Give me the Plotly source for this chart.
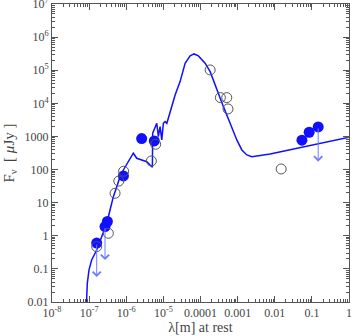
import math
import plotly.graph_objects as go

# model SED (wavelength in m, flux in microJy)
model_wl = [8.51e-8, 8.93e-8, 9.93e-8, 1.17e-7, 1.60e-7, 1.97e-7, 2.42e-7, 2.98e-7,
            3.66e-7, 4.49e-7, 5.55e-7, 6.81e-7, 8.36e-7, 1.14e-6, 1.55e-6, 1.92e-6,
            2.62e-6, 3.57e-6, 4.39e-6, 5.06e-6, 5.15e-6, 5.61e-6, 6.64e-6, 7.33e-6,
            8.15e-6, 9.06e-6, 1.0e-5, 1.11e-5, 1.24e-5, 1.36e-5, 1.68e-5, 2.07e-5,
            2.82e-5, 3.85e-5, 5.25e-5, 6.71e-5, 8.77e-5, 1.33e-4, 1.82e-4, 2.75e-4,
            4.14e-4, 6.28e-4, 9.51e-4, 1.30e-3, 1.77e-3, 2.42e-3, 3.64e-3, 7.52e-3, 1.01]
model_flux = [0.010, 0.0367, 0.093, 0.186, 0.372, 0.664, 1.19, 2.39,
              6.0, 15.2, 30.4, 61, 97, 173, 311, 219,
              195, 173, 138, 117, 1250, 1570, 2500, 986,
              1980, 783, 2500, 2800, 2500, 3550, 7940, 1.79e4,
              4.53e4, 1.63e5, 2.70e5, 3.10e5, 2.70e5, 1.63e5, 9.08e4, 2.54e4,
              7940, 2500, 783, 391, 276, 245, 258, 296, 946]

# detections (filled)
det_wl = [1.6e-7, 2.68e-7, 3.1e-7, 8.4e-7, 2.6e-6, 5.7e-6, 0.054, 0.0845, 0.148]
det_flux = [0.6, 1.9, 2.7, 64, 860, 730, 770, 1340, 1940]

# literature points (open)
lit_wl = [1.6e-7, 3.3e-7, 5.0e-7, 6.3e-7, 8.5e-7, 4.75e-6, 6.2e-6,
          1.82e-4, 3.43e-4, 5.1e-4, 5.5e-4, 0.0149]
lit_flux = [0.47, 1.19, 19.2, 45, 89, 182, 580,
            1.02e5, 1.49e4, 1.49e4, 6770, 104]

# upper limits: arrows drawn from -> to
ul_wl = [1.6e-7, 2.68e-7, 0.148]
ul_from = [0.6, 1.9, 1940]
ul_to = [0.057, 0.186, 173]

xtick_vals = [1e-8, 1e-7, 1e-6, 1e-5, 1e-4, 1e-3, 1e-2, 1e-1, 1]
xtick_text = ['10<sup>-8</sup>', '10<sup>-7</sup>', '10<sup>-6</sup>', '10<sup>-5</sup>',
              '0.0001', '0.001', '0.01', '0.1', '1']
ytick_vals = [1e-2, 1e-1, 1, 10, 100, 1000, 1e4, 1e5, 1e6, 1e7]
ytick_text = ['0.01', '0.1', '1', '10', '100', '1000',
              '10<sup>4</sup>', '10<sup>5</sup>', '10<sup>6</sup>', '10<sup>7</sup>']

model = go.Scatter(x=model_wl, y=model_flux, mode='lines',
                   line=dict(color='#1010ff', width=1.5), showlegend=False)
det = go.Scatter(x=det_wl, y=det_flux, mode='markers',
                 marker=dict(symbol='circle', size=11, color='#1010ff'),
                 showlegend=False)
lit = go.Scatter(x=lit_wl, y=lit_flux, mode='markers',
                 marker=dict(symbol='circle-open', size=10, color='#555',
                             line=dict(width=1)), showlegend=False)

arrows = []
for w, f0, f1 in zip(ul_wl, ul_from, ul_to):
    arrows.append(dict(x=math.log10(w), y=math.log10(f1),
                       ax=math.log10(w), ay=math.log10(f0),
                       xref='x', yref='y', axref='x', ayref='y',
                       showarrow=True, arrowhead=4, arrowsize=1.6,
                       arrowwidth=1, arrowcolor='#6f7dff', text=''))

def minors(lo, hi):
    return [m * 10 ** d for d in range(lo, hi) for m in range(2, 10)]

font = dict(family='Liberation Serif', size=12, color='#444')
axis_common = dict(type='log', showline=True, linecolor='#555', linewidth=1,
                   mirror='ticks', ticks='inside', ticklen=6, tickcolor='#555',
                   showgrid=False, zeroline=False, tickfont=font, automargin=False,
                   ticklabeloverflow='allow')

layout = go.Layout(
    width=352, height=336,
    margin=dict(l=52, r=3, t=4, b=34),
    plot_bgcolor='white', paper_bgcolor='white',
    xaxis=dict(range=[-8, 0], tickvals=xtick_vals, ticktext=xtick_text,
               minor=dict(ticks='inside', ticklen=3, tickcolor='#555',
                          tickvals=minors(-8, 0)),
               title=dict(text='λ[m] at rest',
                          font=dict(family='Liberation Serif', size=14, color='#444'),
                          standoff=2),
               **axis_common),
    yaxis=dict(range=[-2, 7], tickvals=ytick_vals, ticktext=ytick_text,
               minor=dict(ticks='inside', ticklen=3, tickcolor='#555',
                          tickvals=minors(-2, 7)),
               title=dict(text='F<sub>ν</sub>  [ <i>μ</i>Jy ]',
                          font=dict(family='Liberation Serif', size=15, color='#444'),
                          standoff=6),
               **axis_common),
    annotations=arrows,
)

fig = go.Figure(data=[model, det, lit], layout=layout)
fig.write_html('out.html', config={'displayModeBar': False},
               post_script="document.body.style.margin='0';")
